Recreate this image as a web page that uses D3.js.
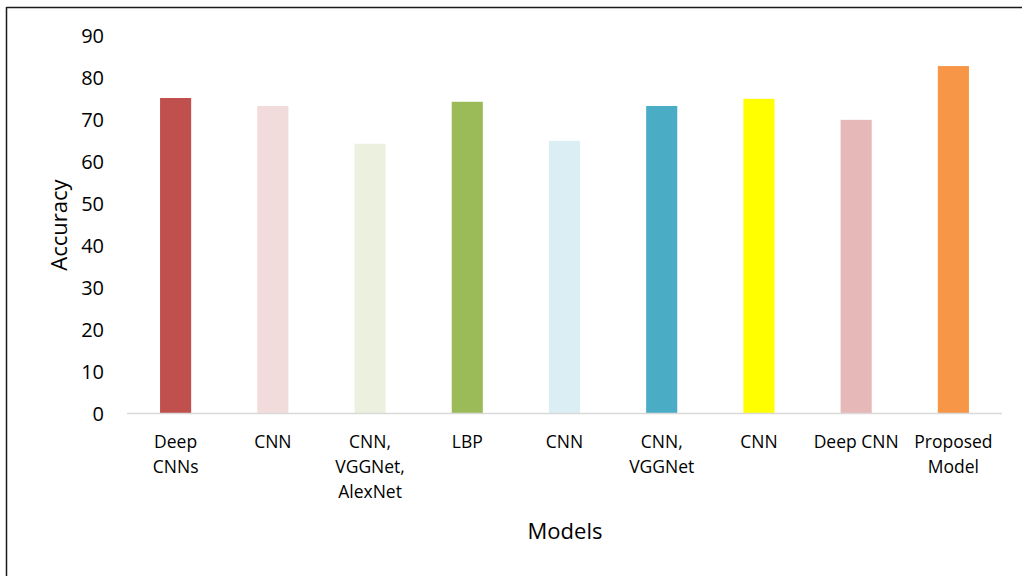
<!DOCTYPE html>
<html>
<head>
<meta charset="utf-8">
<script src="https://cdn.jsdelivr.net/npm/d3@7"></script>
<style>
  html, body { margin: 0; padding: 0; background: #fff; }
  svg { display: block; }
  text { font-family: "Open Sans", "Liberation Sans", sans-serif; fill: #000; }
</style>
</head>
<body>
<svg id="chart" width="1022" height="576"></svg>
<script>
const categories = ["Deep\nCNNs", "CNN", "CNN,\nVGGNet,\nAlexNet", "LBP", "CNN", "CNN,\nVGGNet", "CNN", "Deep CNN", "Proposed\nModel"];
const values = [75.0, 73.1, 64.1, 74.1, 64.8, 73.1, 74.8, 69.8, 82.6];
const colors = ["#C0504D", "#F2DCDB", "#EBF1DE", "#9BBB59", "#DBEEF4", "#4BACC6", "#FFFF00", "#E6B9B8", "#F79646"];
const yTicks = [0, 10, 20, 30, 40, 50, 60, 70, 80, 90];
const xTitle = "Models";
const yTitle = "Accuracy";

const svg = d3.select("#chart");

// outer frame (top and left edges visible)
svg.append("line").attr("x1", 6.5).attr("x2", 1022).attr("y1", 7.5).attr("y2", 7.5)
  .attr("stroke", "#1a1a1a").attr("stroke-width", 1.5);
svg.append("line").attr("x1", 6.5).attr("x2", 6.5).attr("y1", 7).attr("y2", 576)
  .attr("stroke", "#1a1a1a").attr("stroke-width", 1.5);

const x = d3.scaleBand().domain(d3.range(categories.length)).range([127, 1002]).paddingInner(0.68).paddingOuter(0.34);
const y = d3.scaleLinear().domain([0, 90]).range([413, 35]);

// bars
svg.append("g").selectAll("rect").data(values).join("rect")
  .attr("x", (d, i) => x(i))
  .attr("y", d => y(d))
  .attr("width", x.bandwidth())
  .attr("height", d => y(0) - y(d))
  .attr("fill", (d, i) => colors[i]);

// baseline
svg.append("line").attr("x1", 127).attr("x2", 1002).attr("y1", y(0) + 0.5).attr("y2", y(0) + 0.5)
  .attr("stroke", "#D9D9D9").attr("stroke-width", 1.5);

// y axis tick labels
const yAxis = d3.axisLeft(y).tickValues(yTicks).tickSize(0).tickPadding(0);
const gy = svg.append("g").attr("transform", "translate(104,0)").call(yAxis);
gy.select(".domain").remove();
gy.selectAll("text").attr("font-size", 20).attr("font-family", "\"Open Sans\", sans-serif").attr("fill", "#000").attr("dy", "0.35em");

// x category labels
const gx = svg.append("g");
categories.forEach((c, i) => {
  const lines = c.split("\n");
  const t = gx.append("text")
    .attr("x", x(i) + x.bandwidth() / 2)
    .attr("y", 448)
    .attr("text-anchor", "middle")
    .attr("font-size", 17.5);
  lines.forEach((l, j) => {
    t.append("tspan").attr("x", x(i) + x.bandwidth() / 2).attr("y", 448 + j * 25).text(l);
  });
});

// axis titles
svg.append("text").attr("x", 565).attr("y", 539).attr("text-anchor", "middle").attr("font-size", 22).text(xTitle);
svg.append("text").attr("transform", "translate(67,225) rotate(-90)").attr("text-anchor", "middle").attr("font-size", 22).text(yTitle);
</script>
</body>
</html>
